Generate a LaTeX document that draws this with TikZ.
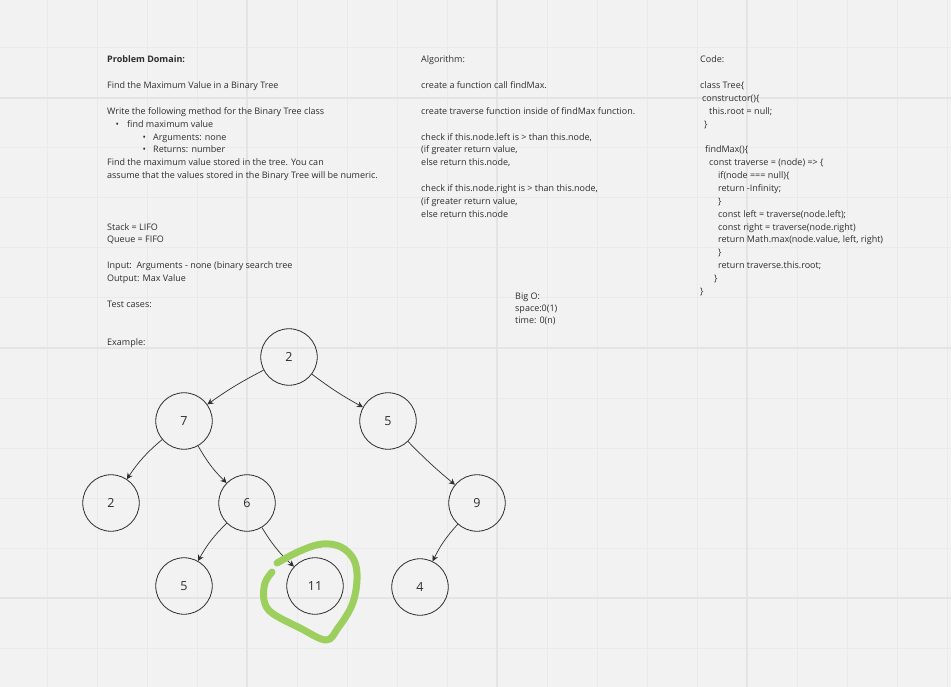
\documentclass[tikz,border=0pt]{standalone}
\usepackage{fontspec}
\setmainfont{Open Sans}
\usetikzlibrary{arrows.meta}
\definecolor{boardbg}{RGB}{242,242,242}
\definecolor{gridminor}{RGB}{234,234,234}
\definecolor{gridmajor}{RGB}{228,228,228}
\definecolor{inkgray}{RGB}{45,45,45}
\definecolor{markgreen}{RGB}{157,207,95}

\begin{document}
\begin{tikzpicture}[
    x=1pt, y=-1pt,
    >=Stealth,
    txt/.style={anchor=base west, inner sep=0pt, text=inkgray, font=\fontsize{9}{12.85}\selectfont},
    treenode/.style={circle, draw=inkgray, line width=0.8pt, minimum size=56.5pt, inner sep=0pt, text=inkgray, font=\fontsize{12.5}{14}\selectfont},
    treeedge/.style={-{Stealth[length=6pt, width=6pt]}, draw=inkgray, line width=0.7pt},
]

% === FONDO Y CUADRICULA ===
\fill[boardbg] (0,0) rectangle (951,687);
\useasboundingbox (0,0) rectangle (951,687);
\foreach \gx in {47,97,...,947} {
    \draw[gridminor, line width=1pt] (\gx,0) -- (\gx,687);
}
\foreach \gy in {48,98,...,648} {
    \draw[gridminor, line width=1pt] (0,\gy) -- (951,\gy);
}
\foreach \gx in {247,497,747} {
    \draw[gridmajor, line width=1.4pt] (\gx,0) -- (\gx,687);
}
\foreach \gy in {98,348,598} {
    \draw[gridmajor, line width=1.4pt] (0,\gy) -- (951,\gy);
}

% === PROBLEM DOMAIN ===
\node[txt] (domain) at (107,63) {\begin{tabular}[t]{@{}l@{}}
    {\bfseries Problem Domain:}\\[12.85pt]
    Find the Maximum Value in a Binary Tree\\[12.85pt]
    Write the following method for the Binary Tree class\\
    \hspace*{8.5pt}\makebox[11.5pt][l]{•}find maximum value\\
    \hspace*{35.5pt}\makebox[10.5pt][l]{•}Arguments: none\\
    \hspace*{35.5pt}\makebox[10.5pt][l]{•}Returns: number\\
    Find the maximum value stored in the tree. You can\\
    assume that the values stored in the Binary Tree will be numeric.\\[38.55pt]
    Stack = LIFO\\
    Queue = FIFO\\[12.85pt]
    Input:\ \ Arguments - none (binary search tree\\
    Output: Max Value\\[12.85pt]
    Test cases:\\[25.7pt]
    Example:
\end{tabular}};

% === ALGORITHM ===
\node[txt] (algorithm) at (421,63) {\begin{tabular}[t]{@{}l@{}}
    Algorithm:\\[12.85pt]
    create a function call findMax.\\[12.85pt]
    create traverse function inside of findMax function.\\[12.85pt]
    check if this.node.left is > than this.node,\\
    (if greater return value,\\
    else return this.node,\\[12.85pt]
    check if this.node.right is > than this.node,\\
    (if greater return value,\\
    else return this.node
\end{tabular}};

% === BIG O ===
\node[txt, font=\fontsize{9}{11.7}\selectfont] (bigo) at (515,300) {\begin{tabular}[t]{@{}l@{}}
    Big O:\\
    space:0(1)\\
    time: 0(n)
\end{tabular}};

% === CODE ===
\node[txt] (code) at (700,63) {\begin{tabular}[t]{@{}l@{}}
    Code:\\[12.85pt]
    class Tree\{\\
    \hspace*{2pt}constructor()\{\\
    \hspace*{9pt}this.root = null;\\
    \hspace*{4pt}\}\\[12.85pt]
    \hspace*{5pt}findMax()\{\\
    \hspace*{9pt}const traverse = (node) => \{\\
    \hspace*{18pt}if(node === null)\{\\
    \hspace*{18pt}return -Infinity;\\
    \hspace*{18pt}\}\\
    \hspace*{18pt}const left = traverse(node.left);\\
    \hspace*{18pt}const right = traverse(node.right)\\
    \hspace*{18pt}return Math.max(node.value, left, right)\\
    \hspace*{18pt}\}\\
    \hspace*{18pt}return traverse.this.root;\\
    \hspace*{14pt}\}\\
    \}
\end{tabular}};

% === ARBOL ===
\node[treenode] (root) at (289,357) {2};
\node[treenode] (l)    at (184,421) {7};
\node[treenode] (r)    at (388,421) {5};
\node[treenode] (ll)   at (111,503) {2};
\node[treenode] (lr)   at (247,503) {6};
\node[treenode] (rr)   at (477,503) {9};
\node[treenode] (lrl)  at (184,586) {5};
\node[treenode] (lrr)  at (315,586) {11};
\node[treenode] (rrl)  at (420,587) {4};

\draw[treeedge] (root) to[bend right=4] (l);
\draw[treeedge] (root) to[bend right=4] (r);
\draw[treeedge] (l) to[bend right=8] (ll);
\draw[treeedge] (l) to[bend right=8] (lr);
\draw[treeedge] (lr) to[bend right=8] (lrl);
\draw[treeedge] (lr) to[bend right=8] (lrr);
\draw[treeedge] (r) to[bend right=3] (rr);
\draw[treeedge] (rr) to[bend right=8] (rrl);

% === MARCA VERDE ===
\draw[markgreen, line width=7pt, line cap=round, line join=round]
    plot[smooth, tension=0.6] coordinates {
        (277,563) (300,551) (322,544) (341,547) (354,560) (357,580)
        (352,605) (338,628) (326,640) (300,628) (272,613) (264,600)
        (265,583) (272,572)
    };

\end{tikzpicture}
\end{document}
